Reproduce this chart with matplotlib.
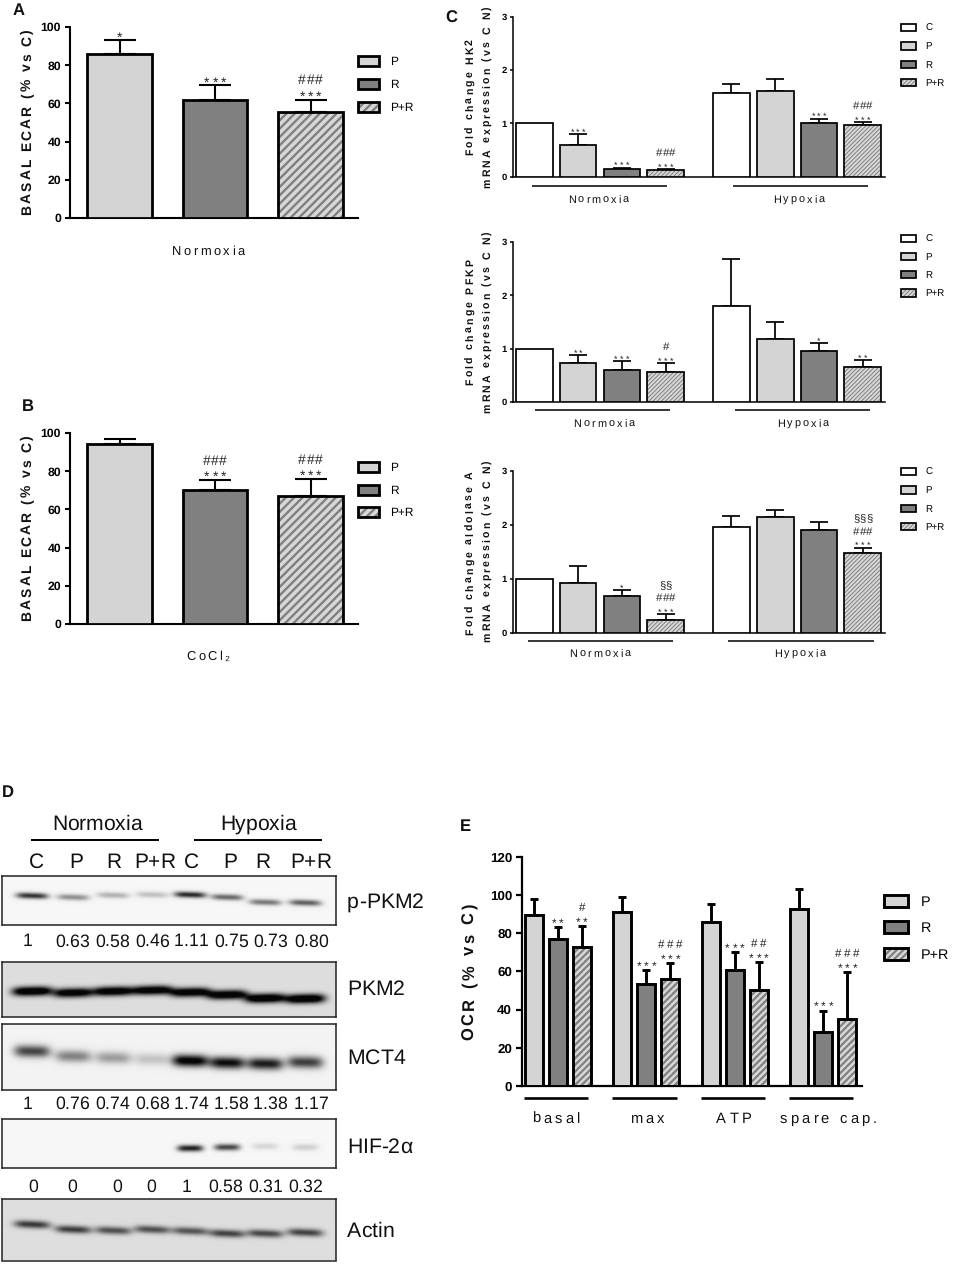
import numpy as np
import matplotlib
matplotlib.use("Agg")
import matplotlib.pyplot as plt
import matplotlib.text as mtext
from matplotlib.lines import Line2D
from matplotlib.transforms import IdentityTransform, offset_copy
from matplotlib.colors import to_rgba

plt.rcParams['font.family'] = ['Liberation Sans', 'DejaVu Sans']
plt.rcParams['text.hinting'] = 'no_hinting'

# ---------- data ----------
A_vals = [86, 62, 55.5]
A_err = [7, 7.5, 6.5]
A_sig = [['*'], ['***'], ['***', '###']]
B_vals = [94, 70, 67]
B_err = [3, 5.5, 9]
B_sig = [[], ['***', '###'], ['***', '###']]

HK2_vals = [1, .6, .14, .12, 1.57, 1.6, 1.0, .97]
HK2_err = [0, .2, .03, .02, .16, .24, .09, .05]
HK2_sig = [[], ['***'], ['***'], ['***', '###'], [], [], ['***'], ['***', '###']]
PFKP_vals = [1, .73, .6, .56, 1.8, 1.19, .95, .65]
PFKP_err = [0, .15, .16, .17, .88, .31, .15, .13]
PFKP_sig = [[], ['**'], ['***'], ['***', '#'], [], [], ['*'], ['**']]
ALD_vals = [1, .92, .68, .23, 1.97, 2.14, 1.91, 1.47]
ALD_err = [0, .31, .11, .11, .2, .14, .15, .11]
ALD_sig = [[], [], ['*'], ['***', '###', '§§'], [], [], [], ['***', '###', '§§§']]

OCR_vals = [89.5, 77, 72.5, 91, 53.5, 56, 86, 60.5, 50.5, 92.5, 28.5, 35]
OCR_err = [8.5, 6, 11, 8, 7, 8.5, 9, 9.5, 14.5, 10.5, 11, 24.5]
OCR_sig = [[], ['**'], ['**', '#'], [], ['***'], ['***', '###'],
           [], ['***'], ['***', '##'], [], ['***'], ['***', '###']]
OCR_groups = ['basal', 'max', 'ATP', 'spare cap.']

lanes = ['C', 'P', 'R', 'P+R', 'C', 'P', 'R', 'P+R']
pPKM2_q = ['1', '0.63', '0.58', '0.46', '1.11', '0.75', '0.73', '0.80']
MCT4_q = ['1', '0.76', '0.74', '0.68', '1.74', '1.58', '1.38', '1.17']
HIF_q = ['0', '0', '0', '0', '1', '0.58', '0.31', '0.32']
# band darkness per lane, read from the blots
pPKM2_band = [.80, .42, .28, .22, .85, .58, .52, .62]
PKM2_band = [.95, .88, .92, .90, .90, .93, .97, .98]
MCT4_band = [.66, .42, .32, .18, .97, .88, .82, .68]
HIF_band = [0, 0, 0, 0, .88, .72, .13, .16]
Actin_band = [.72, .70, .62, .62, .60, .68, .66, .68]

# ---------- layout helpers ----------
W, H = 957, 1264
fig = plt.figure(figsize=(W / 100, H / 100), dpi=100, facecolor='white')


class Tracked(mtext.Text):
    """Text drawn with extra spacing between its letters."""
    def __init__(self, x, y, s, track=0, **kw):
        kw.setdefault('ha', 'center')
        kw.setdefault('va', 'baseline')
        kw.setdefault('rotation_mode', 'anchor')
        super().__init__(x, y, s, **kw)
        self.track = track

    def draw(self, renderer):
        s = self.get_text()
        fp = self.get_fontproperties()
        x, y = self.get_transform().transform(self.get_unitless_position())
        em = fp.get_size_in_points() * 100 / 72

        def adv(t):
            total = 0.0
            for c in t:
                if c == ' ':
                    total += .278 * em
                else:
                    total += renderer.get_text_width_height_descent(c + '|', fp, False)[0] \
                        - renderer.get_text_width_height_descent('|', fp, False)[0]
            return total
        total = adv(s) + self.track * (len(s) - 1)
        a = np.deg2rad(self.get_rotation())
        ux, uy = np.cos(a), np.sin(a)
        for i, ch in enumerate(s):
            if ch == ' ':
                continue
            off = adv(s[:i]) + i * self.track - total / 2
            t = mtext.Text(x + off * ux, y + off * uy, ch, fontproperties=fp,
                           color=self.get_color(), rotation=self.get_rotation(),
                           ha='left', va='baseline', rotation_mode='anchor',
                           transform=IdentityTransform())
            t.set_figure(self.get_figure())
            t.draw(renderer)


def label(x, y, s, size, bold=False, track=0, rot=0):
    return fig.add_artist(Tracked(x, H - y, s, track=track, fontsize=size, rotation=rot,
                                  fontweight='bold' if bold else 'normal',
                                  transform=IdentityTransform(), color='#111111'))


def hline(x0, x1, y, lw):
    fig.add_artist(Line2D([x0 / W, x1 / W], [1 - y / H] * 2, color='black', lw=lw,
                          transform=fig.transFigure, solid_capstyle='butt'))


FILL = {'C': 'white', 'P': '#d4d4d4', 'R': '#808080', 'P+R': '#d8d8d8'}


def barpanel(box, ymax, yticks, pos, width, vals, errs, sig, kinds, st, ylim0=0):
    x0, x1, ytop, ybot, first, pitch = box
    ax = fig.add_axes([x0 / W, 1 - ybot / H, (x1 - x0) / W, (ybot - ytop) / H])
    ax.patch.set_alpha(0)
    ax.set_xlim((x0 - first) / pitch, (x1 - first) / pitch)
    ax.set_ylim(0, ymax)
    plt.rcParams['hatch.linewidth'] = st['hlw']
    handles = {}
    for p, v, k in zip(pos, vals, kinds):
        b = ax.bar(p, v, width, facecolor=FILL[k], edgecolor='black', linewidth=st['lw'],
                   hatch=st['hatch'] if k == 'P+R' else None, zorder=3)[0]
        if k == 'P+R':
            b._hatch_color = to_rgba('#808080')
        handles.setdefault(k, b)
    pp = np.array(pos, float)
    vv = np.array(vals, float)
    ee = np.array(errs, float)
    m = ee > 0
    ax.errorbar(pp[m], vv[m], yerr=[np.zeros(m.sum()), ee[m]], fmt='none', ecolor='black',
                elinewidth=st['elw'], capsize=st['cap'], capthick=st['elw'], zorder=2)
    for p, v, e, rows in zip(pos, vals, errs, sig):
        for row in rows:
            star = row[0] == '*'
            dy = st['sdy'] if star else st['dy'][rows.index(row)]
            tr = offset_copy(ax.transData, fig=fig, y=dy, units='dots')
            ax.add_artist(Tracked(p, v + e, row, track=st['strack'] if star else st['htrack'],
                                  fontsize=st['ssize'] if star else st['hsize'],
                                  transform=tr, color='#222222'))
    for s in ('top', 'right'):
        ax.spines[s].set_visible(False)
    for s in ('left', 'bottom'):
        ax.spines[s].set_linewidth(st['slw'])
    ax.set_xticks([])
    ax.set_yticks(yticks)
    ax.tick_params(axis='y', length=st['tl'], width=st['slw'], labelsize=st['tsize'], pad=st['tpad'])
    for t in ax.get_yticklabels():
        t.set_fontweight('bold')
    order = [k for k in ('C', 'P', 'R', 'P+R') if k in handles]
    lx, ly, lp = st['leg']
    fs = st['lsize']
    hh = st['lh'] / (fs * 100 / 72)
    ax.legend([handles[k] for k in order], order, loc='upper left',
              bbox_to_anchor=(lx / W, 1 - ly / H), bbox_transform=fig.transFigure,
              frameon=False, fontsize=fs, borderpad=0, borderaxespad=0,
              handlelength=st['lw_h'] / (fs * 100 / 72), handleheight=hh,
              handletextpad=st['lpad'] / (fs * 100 / 72),
              labelspacing=(lp - st['lh']) / (fs * 100 / 72))
    return ax


# ---------- panels A, B ----------
stAB = dict(lw=2.0, hlw=1.7, hatch='////', elw=1.5, cap=11.5, slw=1.5, tl=3.5, tsize=8.8, tpad=3,
            sdy=-1, dy=[0, 15.5, 28], ssize=10, hsize=10, strack=3, htrack=0.5,
            leg=(358, 56, 22.4), lsize=8.6, lh=11, lw_h=21, lpad=11)
kinds3 = ['P', 'R', 'P+R']
barpanel((70, 358, 27, 218, 119.5, 95.5), 100, range(0, 101, 20), [0, 1, 2], .68,
         A_vals, A_err, A_sig, kinds3, stAB)
barpanel((70, 358, 433, 624, 119.5, 95.5), 100, range(0, 101, 20), [0, 1, 2], .68,
         B_vals, B_err, B_sig, kinds3, dict(stAB, leg=(358, 462, 22), dy=[0, 14.5, 28]))
label(31, 122, 'BASAL ECAR (% vs C)', 10, True, 2, 90)
label(31, 528, 'BASAL ECAR (% vs C)', 10, True, 2, 90)
label(208, 255, 'Normoxia', 9.3, False, 2.5)
label(208, 660, 'CoCl₂', 9.3, False, 2.5)

# ---------- panel C ----------
stC = dict(lw=1.25, hlw=.7, hatch='////////', elw=1.25, cap=6.2, slw=1.1, tl=2.2, tsize=6.8, tpad=2,
           sdy=-0.5, dy=[0, 13, 25.5], ssize=6.5, hsize=8.2, strack=2.3, htrack=0,
           leg=(901, 24, 16.4), lsize=7.0, lh=7.5, lw_h=15, lpad=9)
pos8 = [0, 1, 2, 3, 4.5, 5.5, 6.5, 7.5]
kinds8 = ['C', 'P', 'R', 'P+R'] * 2
for yt, yb, vals, errs, sig, ly in [(16.7, 176.7, HK2_vals, HK2_err, HK2_sig, 24),
                                    (242, 402, PFKP_vals, PFKP_err, PFKP_sig, 234.5),
                                    (471, 632.7, ALD_vals, ALD_err, ALD_sig, 468)]:
    barpanel((512.7, 885, yt, yb, 534.3, 43.8), 3, [0, 1, 2, 3], pos8, .84, vals, errs, sig,
             kinds8, dict(stC, leg=(901, ly, 16.4)))
for line1, cy1, cy2 in [('Fold change HK2', 97, 97), ('Fold change PFKP', 322, 322),
                        ('Fold change aldolase A', 553, 551)]:
    label(473, cy1, line1, 7.6, True, 2.2, 90)
    label(490.5, cy2, 'mRNA expression (vs C N)', 7.6, True, 2.1, 90)
for (a0, a1, b0, b1), ly, base, ca, cb in [((532, 667, 733, 868), 186, 203, 598.3, 799),
                                           ((535, 670, 735, 870), 410, 427, 604, 803),
                                           ((528, 673, 728, 874), 640.7, 657, 600, 800)]:
    hline(a0, a1, ly, 1.1)
    hline(b0, b1, ly, 1.1)
    label(ca, base, 'Normoxia', 7.8, False, 2.1)
    label(cb, base, 'Hypoxia', 7.8, False, 2.1)

# ---------- panel E ----------
stE = dict(lw=2.1, hlw=1.6, hatch='/////', elw=2.1, cap=2.7, slw=1.6, tl=4, tsize=9.6, tpad=3,
           sdy=0, dy=[0, 15, 28], ssize=8.6, hsize=8.4, strack=3, htrack=2.4,
           leg=(884, 895, 25.2), lsize=10.4, lh=12.5, lw_h=24, lpad=13)
posE = [g * 3.69 + i for g in range(4) for i in range(3)]
barpanel((521.7, 862, 856.7, 1086, 533.7, 24), 120, range(0, 121, 20), posE, .75,
         OCR_vals, OCR_err, OCR_sig, kinds3 * 4, stE)
label(474, 972, 'OCR (% vs C)', 11.9, True, 2.7, 90)
for (a, b), c, s in zip([(524, 587.7), (612.3, 677), (700.7, 765), (789, 853)],
                        [556, 647, 734, 828], OCR_groups):
    hline(a, b, 1098, 1.9)
    label(c, 1123, s, 10.6, False, 3.2)

# ---------- panel D: blots ----------
lane_x = [32, 73, 113, 152, 190, 227, 265, 305]
BX0, BX1 = 2, 336


def blot(ytop, ybot, bg, amp, band_y, wx, sy, tilt=0.0, gain=1.0):
    ax = fig.add_axes([BX0 / W, 1 - ybot / H, (BX1 - BX0) / W, (ybot - ytop) / H])
    yy, xx = np.mgrid[ytop:ybot:0.5, BX0:BX1:0.5]
    dark = np.zeros_like(xx)
    for cx, cy, a in zip(lane_x, band_y, amp):
        dark += gain * a * np.exp(-((xx - cx) / wx) ** 4) * \
            np.exp(-((yy - cy - tilt * (xx - cx)) / sy) ** 2)
    img = bg * (1 - np.clip(dark, 0, .97))
    ax.imshow(img, cmap='gray', vmin=0, vmax=1, aspect='auto', interpolation='bilinear',
              extent=(BX0, BX1, ybot, ytop))
    ax.set_xticks([])
    ax.set_yticks([])
    for s in ax.spines.values():
        s.set_linewidth(1.1)
        s.set_color('#222222')


blot(876, 925, .965, pPKM2_band, [895.5, 897, 895, 894.5, 894.5, 897, 902, 902.5], 16, 3, .03)
blot(962, 1017, .87, PKM2_band, [991, 992.5, 991, 990, 992, 994.5, 998, 998.5], 20, 4.6, -.02, 1.35)
blot(1024, 1090, .95, MCT4_band, [1051, 1056, 1057.5, 1059, 1060.5, 1062.5, 1063.5, 1062],
     18, 6, .02, 1.1)
blot(1119, 1168, .965, HIF_band, [1148, 1148, 1148, 1148, 1148, 1147, 1146, 1147], 13, 3.3)
blot(1199, 1260.5, .87, Actin_band, [1225, 1230, 1231, 1230, 1231.5, 1234, 1234, 1233],
     18, 3.8, .04, 1.05)

hline(31, 159, 840, 1.4)
hline(194, 322, 840, 1.4)
label(97, 830, 'Normoxia', 15.2)
label(258, 830, 'Hypoxia', 15.2)
for c, s in zip([36, 76, 114, 155, 191, 230, 263, 311], lanes):
    label(c, 868, s, 15)
for c, s in zip([28, 72, 112, 152, 191, 231, 270, 311], pPKM2_q):
    label(c, 946.5, s, 12.7)
for c, s in zip([28, 72, 112, 152, 191, 231, 270, 311], MCT4_q):
    label(c, 1109, s, 12.7)
for c, s in zip([33, 72, 117, 151, 187, 225, 265, 305], HIF_q):
    label(c, 1192, s, 12.7)
for s, y, wd in [('p-PKM2', 908, 77), ('PKM2', 995, 58), ('MCT4', 1064, 58),
                 ('HIF-2α', 1153, 65), ('Actin', 1237, 47)]:
    label(347 + wd / 2, y, s, 15.3)

# ---------- panel letters ----------
for s, x, y in [('A', 19, 15), ('B', 28, 411), ('C', 451, 23), ('D', 7.5, 797), ('E', 465, 831)]:
    label(x, y, s, 12, True)

fig.savefig('out.png', dpi=100)
